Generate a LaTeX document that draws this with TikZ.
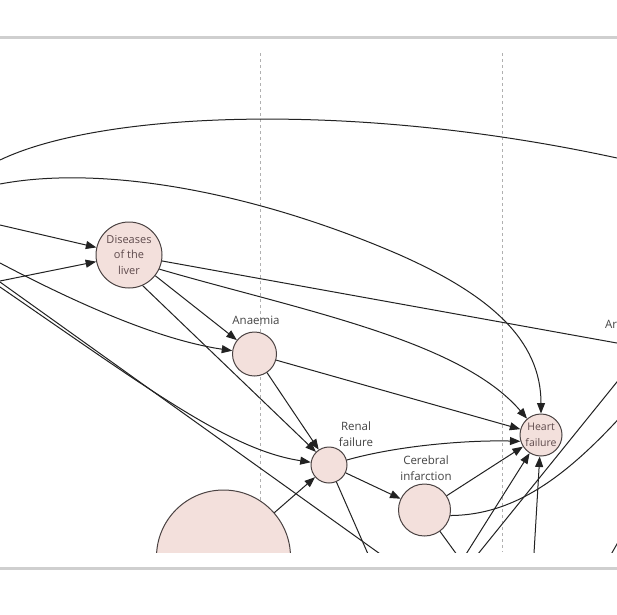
\documentclass[tikz,border=0pt]{standalone}
\usepackage{fontspec}
\setmainfont{Open Sans}
\usetikzlibrary{arrows.meta}
\definecolor{nodefill}{HTML}{F3E0DC}
\definecolor{nodeedge}{HTML}{4A4242}
\definecolor{nodetext}{HTML}{5E4A4C}
\definecolor{labeltext}{HTML}{444444}
\definecolor{rulegray}{HTML}{CFCFCF}
\definecolor{guidegray}{HTML}{B0B0B0}
\definecolor{edgecol}{HTML}{222222}
\begin{document}
\begin{tikzpicture}[x=1pt,y=-1pt,
  disease/.style={circle,draw=nodeedge,fill=nodefill,line width=1pt,inner sep=0pt,minimum size=#1,font=\fontsize{11}{15.5}\selectfont,text=nodetext,align=center},
  lbl/.style={font=\fontsize{11.5}{16}\selectfont,text=labeltext,align=center,inner sep=0pt},
  link/.style={draw=edgecol,line width=1pt,-{Triangle[length=10.5pt,width=8pt]}},
  plain/.style={draw=edgecol,line width=1pt},
  guideline/.style={draw=guidegray,line width=0.6pt,dash pattern=on 3pt off 3pt},
  rulebar/.style={draw=rulegray,line width=3pt}]
\useasboundingbox (0,0) rectangle (617,614);
\fill[white] (0,0) rectangle (617,614);
\draw[rulebar] (0,37) -- (617,37);
\draw[rulebar] (0,568) -- (617,568);
\begin{scope}
\clip (0,40) rectangle (617,552);
\coordinate (g1a) at (260,53); \coordinate (g1b) at (260,552);
\coordinate (g2a) at (502.5,53); \coordinate (g2b) at (502.5,552);
\draw[guideline] (g1a) -- (g1b);
\draw[guideline] (g2a) -- (g2b);
% nodes
\node[disease=66pt] (liver) at (129,255) {Diseases\\of the\\liver};
\node[disease=44pt] (anaemia) at (254.5,354) {};
\node[disease=36pt] (renal) at (329,465) {};
\node[disease=52pt] (cerebral) at (424.5,510) {};
\node[disease=42pt,font=\fontsize{10.5}{15.5}\selectfont] (hf) at (541,435) {Heart\\failure};
\node[disease=134pt] (big) at (223.5,557) {};
\node[lbl] (anlbl) at (256,320) {Anaemia};
\node[lbl] (renlbl) at (356,434) {Renal\\failure};
\node[lbl] (cerlbl) at (426,468) {Cerebral\\infarction};
\node[lbl,anchor=west] (arlbl) at (605,324) {Ar};
% free ends
\coordinate (cA1s) at (0,160); \coordinate (cA1e) at (617,158);
\coordinate (cA2s) at (0,184); \coordinate (cA2m) at (400,255);
\coordinate (cL1) at (0,225); \coordinate (cL2) at (0,281);
\coordinate (cL3) at (0,263); \coordinate (cL4) at (0,287);
\coordinate (cS1) at (0,282); \coordinate (cS2) at (390,561);
\coordinate (cArE) at (700,358);
\coordinate (cCR) at (640,395);
\coordinate (cB1) at (456,570); \coordinate (cB2) at (533,570);
\coordinate (cB3) at (465,570); \coordinate (cB4) at (650,341);
\coordinate (cR2) at (375,570); \coordinate (cC2) at (468,570);
\coordinate (cX1) at (609,558); \coordinate (cX2) at (625,530);
% connectors
\draw[plain] (cA1s) .. controls (100,112) and (350,100) .. (cA1e);
\draw[link] (cA2s) .. controls (100,165) and (250,190) .. (cA2m) .. controls (490,295) and (541,340) .. (hf);
\draw[link] (cL1) -- (liver);
\draw[link] (cL2) -- (liver);
\draw[link] (cL3) .. controls (80,305) and (160,340) .. (anaemia);
\draw[link] (cL4) .. controls (150,390) and (230,450) .. (renal);
\draw[plain] (cS1) -- (cS2);
\draw[link] (liver) -- (anaemia);
\draw[link] (liver.-66) -- (renal.135);
\draw[link] (anaemia) -- (renal);
\draw[plain] (liver) -- (cArE);
\draw[link] (liver.-25) .. controls (300,310) and (460,340) .. (hf);
\draw[link] (anaemia) -- (hf);
\draw[link] (renal) .. controls (400,445) and (470,440) .. (hf.197);
\draw[link] (renal) -- (cerebral);
\draw[link] (cerebral) -- (hf);
\draw[plain] (cerebral.-12) .. controls (520,515) and (575,470) .. (cCR);
\draw[link] (cB1) -- (hf);
\draw[link] (cB2) -- (hf);
\draw[plain] (cB3) -- (cB4);
\draw[plain] (renal) -- (cR2);
\draw[plain] (cerebral) -- (cC2);
\draw[link] (big) -- (renal);
\draw[plain] (cX1) -- (cX2);
\end{scope}
\end{tikzpicture}
\end{document}
